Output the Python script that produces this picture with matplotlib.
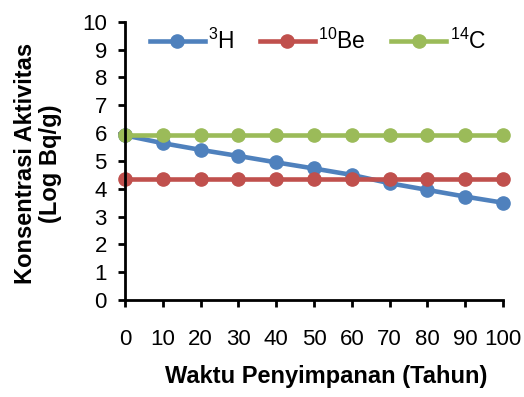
import matplotlib
matplotlib.use('Agg')
import matplotlib.pyplot as plt

plt.rcParams['font.family'] = ['Liberation Sans', 'DejaVu Sans']
plt.rcParams['mathtext.fontset'] = 'custom'
plt.rcParams['mathtext.rm'] = 'Liberation Sans'

# data
tahun = [0, 10, 20, 30, 40, 50, 60, 70, 80, 90, 100]
h3 = [5.92, 5.64, 5.40, 5.18, 4.95, 4.73, 4.50, 4.20, 3.96, 3.72, 3.50]
be10 = [4.34, 4.34, 4.34, 4.34, 4.34, 4.34, 4.34, 4.34, 4.34, 4.34, 4.34]
c14 = [5.92, 5.92, 5.92, 5.92, 5.92, 5.92, 5.92, 5.92, 5.92, 5.92, 5.92]
labels = [r'$^{3}$H', r'$^{10}$Be', r'$^{14}$C']

fig = plt.figure(figsize=(5.24, 3.97), dpi=100)
ax = fig.add_axes([0.2385, 0.244, 0.7215, 0.701])

ax.plot(tahun, h3, color='#4F81BD', lw=3.3, marker='o', ms=9.5, label=labels[0], clip_on=False)
ax.plot(tahun, be10, color='#C0504D', lw=3.3, marker='o', ms=9.5, label=labels[1], clip_on=False)
ax.plot(tahun, c14, color='#9BBB59', lw=3.3, marker='o', ms=9.5, label=labels[2], clip_on=False)

ax.set_xlim(0, 100)
ax.set_ylim(0, 10)
ax.set_xticks(tahun)
ax.set_yticks(range(0, 11))
for s in ['top', 'right']:
    ax.spines[s].set_visible(False)
for s in ['left', 'bottom']:
    ax.spines[s].set_linewidth(2)
ax.tick_params(axis='both', width=2, length=5, labelsize=16)
ax.tick_params(axis='x', pad=16)
ax.tick_params(axis='y', pad=8)

ax.set_xlabel('Waktu Penyimpanan (Tahun)', fontsize=17, fontweight='bold')
ax.xaxis.set_label_coords(0.532, -0.232)
ax.set_ylabel('Konsentrasi Aktivitas\n(Log Bq/g)', fontsize=17, fontweight='bold',
              linespacing=1.1)
ax.yaxis.set_label_coords(-0.167, 0.49)

ax.legend(loc='upper center', bbox_to_anchor=(0.51, 1.05), ncol=3, frameon=False,
          fontsize=16.5, handlelength=2.4, handletextpad=0.15, columnspacing=1.1)

fig.savefig('out.png', dpi=100)
